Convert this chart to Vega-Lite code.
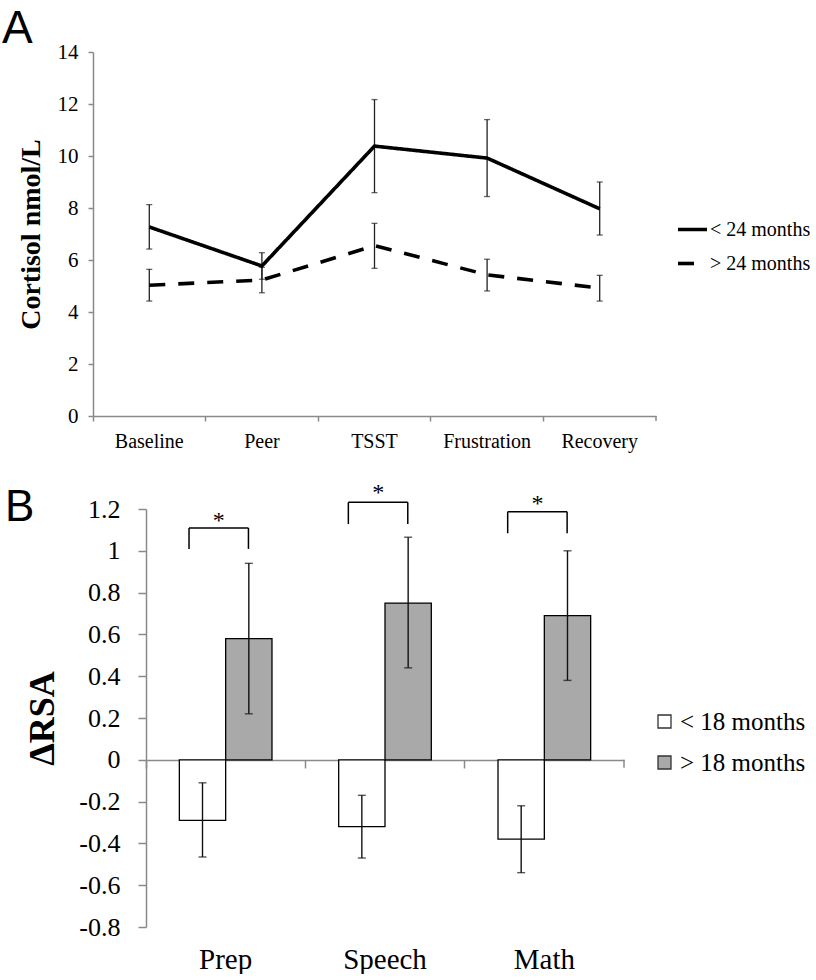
{
  "$schema": "https://vega.github.io/schema/vega-lite/v6.json",
  "background": "white",
  "padding": {"left": 2, "top": 6, "right": 0, "bottom": 0},
  "spacing": 30,
  "columns": 1,
  "align": "none",
  "resolve": {"legend": {"strokeDash": "independent", "fill": "independent"}},
  "config": {
    "view": {"stroke": null},
    "font": "Liberation Serif",
    "axis": {"labelFont": "Liberation Serif", "titleFont": "Liberation Serif", "labelColor": "black", "titleColor": "black", "domainColor": "#8a8a8a", "tickColor": "#8a8a8a", "grid": false, "domainWidth": 1.5, "tickWidth": 1.5},
    "legend": {"labelFont": "Liberation Serif", "labelColor": "black"},
    "title": {"font": "Liberation Sans", "fontWeight": "normal", "color": "black"}
  },
  "datasets": {
    "cortisol": [
      {"stage": "Baseline", "group": "< 24 months", "mean": 7.27, "lo": 6.42, "hi": 8.13},
      {"stage": "Peer", "group": "< 24 months", "mean": 5.77, "lo": 5.26, "hi": 6.28},
      {"stage": "TSST", "group": "< 24 months", "mean": 10.38, "lo": 8.59, "hi": 12.17},
      {"stage": "Frustration", "group": "< 24 months", "mean": 9.92, "lo": 8.44, "hi": 11.4},
      {"stage": "Recovery", "group": "< 24 months", "mean": 7.97, "lo": 6.96, "hi": 9.0},
      {"stage": "Baseline", "group": "> 24 months", "mean": 5.03, "lo": 4.42, "hi": 5.64},
      {"stage": "Peer", "group": "> 24 months", "mean": 5.23, "lo": 4.74, "hi": 5.72},
      {"stage": "TSST", "group": "> 24 months", "mean": 6.55, "lo": 5.68, "hi": 7.41},
      {"stage": "Frustration", "group": "> 24 months", "mean": 5.43, "lo": 4.81, "hi": 6.03},
      {"stage": "Recovery", "group": "> 24 months", "mean": 4.92, "lo": 4.42, "hi": 5.41}
    ],
    "rsa": [
      {"task": "Prep", "group": "< 18 months", "value": -0.29, "lo": -0.465, "hi": -0.11},
      {"task": "Prep", "group": "> 18 months", "value": 0.58, "lo": 0.22, "hi": 0.94},
      {"task": "Speech", "group": "< 18 months", "value": -0.32, "lo": -0.47, "hi": -0.17},
      {"task": "Speech", "group": "> 18 months", "value": 0.75, "lo": 0.44, "hi": 1.065},
      {"task": "Math", "group": "< 18 months", "value": -0.38, "lo": -0.54, "hi": -0.22},
      {"task": "Math", "group": "> 18 months", "value": 0.69, "lo": 0.38, "hi": 1.0}
    ],
    "brackets": [
      {"task": "Prep", "top": 1.109, "bot": 1.009, "star": 1.168, "label": "*"},
      {"task": "Speech", "top": 1.232, "bot": 1.128, "star": 1.299, "label": "*"},
      {"task": "Math", "top": 1.187, "bot": 1.084, "star": 1.248, "label": "*"}
    ]
  },
  "concat": [
    {
      "width": 563,
      "height": 364,
      "title": {"text": "A", "fontSize": 46, "anchor": "start", "frame": "group", "dx": -91, "dy": 57, "offset": 9, "baseline": "alphabetic"},
      "data": {"name": "cortisol"},
      "encoding": {
        "x": {"field": "stage", "type": "nominal", "sort": ["Baseline", "Peer", "TSST", "Frustration", "Recovery"], "scale": {"paddingInner": 0, "paddingOuter": 0},
          "axis": {"title": null, "labelAngle": 0, "labelFontSize": 20, "bandPosition": 0, "tickSize": 5, "labelPadding": 10}}
      },
      "layer": [
        {
          "mark": {"type": "rule", "color": "#222222", "strokeWidth": 1.3},
          "encoding": {
            "y": {"field": "lo", "type": "quantitative", "title": "Cortisol nmol/L", "scale": {"domain": [0, 14], "nice": false},
              "axis": {"title": "Cortisol nmol/L", "titleFontSize": 28, "titleFontWeight": "bold", "titlePadding": 12, "values": [0, 2, 4, 6, 8, 10, 12, 14], "labelFontSize": 21, "tickSize": 5, "labelPadding": 10}},
            "y2": {"field": "hi"}
          }
        },
        {
          "mark": {"type": "tick", "color": "#222222", "thickness": 1.3, "size": 6},
          "encoding": {"y": {"field": "lo", "type": "quantitative", "title": "Cortisol nmol/L"}}
        },
        {
          "mark": {"type": "tick", "color": "#222222", "thickness": 1.3, "size": 6},
          "encoding": {"y": {"field": "hi", "type": "quantitative", "title": "Cortisol nmol/L"}}
        },
        {
          "mark": {"type": "line", "color": "black", "strokeWidth": 3.6},
          "encoding": {
            "y": {"field": "mean", "type": "quantitative", "title": "Cortisol nmol/L"},
            "strokeDash": {"field": "group", "type": "nominal",
              "scale": {"domain": ["< 24 months", "> 24 months"], "range": [[1, 0], [16, 13]]},
              "legend": {"title": null, "orient": "none", "legendX": 583, "legendY": 161, "symbolType": "stroke", "symbolSize": 841, "symbolStrokeWidth": 3.6, "symbolStrokeColor": "black", "labelFontSize": 20, "labelOffset": 1, "rowPadding": 7}}
          }
        },
        {
          "data": {"values": [{"stage": "Recovery"}]},
          "mark": {"type": "rule", "color": "#8a8a8a", "strokeWidth": 1.5},
          "encoding": {
            "x": {"field": "stage", "type": "nominal", "bandPosition": 1},
            "y": {"datum": 0, "type": "quantitative"},
            "y2": {"datum": -0.19}
          }
        }
      ]
    },
    {
      "width": 531,
      "height": 418,
      "title": {"text": "B", "fontSize": 44, "anchor": "start", "frame": "group", "dx": -88, "dy": 74, "offset": -10, "baseline": "alphabetic"},
      "layer": [
        {
          "data": {"name": "rsa"},
          "mark": {"type": "bar", "stroke": "black", "strokeWidth": 1.3},
          "encoding": {
            "x": {"field": "task", "type": "nominal", "sort": ["Prep", "Speech", "Math"], "scale": {"range": [53, 531], "paddingInner": 0, "paddingOuter": 0},
              "axis": {"title": null, "labelAngle": 0, "labelFontSize": 29, "bandPosition": 0, "tickSize": 8, "offset": -167, "labelPadding": 177}},
            "xOffset": {"field": "group", "type": "nominal", "sort": ["< 18 months", "> 18 months"], "scale": {"paddingInner": 0, "paddingOuter": 0.72}},
            "y": {"field": "value", "type": "quantitative", "title": "ΔRSA", "scale": {"domain": [-0.8, 1.2], "nice": false},
              "axis": {"title": "ΔRSA", "titleFontSize": 36, "titleFontWeight": "bold", "titlePadding": 17, "offset": -53, "values": [-0.8, -0.6, -0.4, -0.2, 0, 0.2, 0.4, 0.6, 0.8, 1, 1.2],
                "labelExpr": "datum.value < 0 ? '-' + format(-datum.value, '~g') : format(datum.value, '~g')", "labelFontSize": 26, "tickSize": 8, "labelPadding": 18}},
            "fill": {"field": "group", "type": "nominal", "scale": {"domain": ["< 18 months", "> 18 months"], "range": ["white", "#a9a9a9"]},
              "legend": {"title": null, "orient": "none", "legendX": 559, "legendY": 200, "symbolType": "square", "symbolSize": 169, "symbolStrokeColor": "#333333", "symbolStrokeWidth": 1.3, "labelFontSize": 25, "labelOffset": 3, "rowPadding": 15}}
          }
        },
        {
          "data": {"name": "rsa"},
          "mark": {"type": "rule", "color": "#111111", "strokeWidth": 1.4},
          "encoding": {
            "x": {"field": "task", "type": "nominal", "sort": ["Prep", "Speech", "Math"]},
            "xOffset": {"field": "group", "type": "nominal", "sort": ["< 18 months", "> 18 months"]},
            "y": {"field": "lo", "type": "quantitative", "title": "ΔRSA"},
            "y2": {"field": "hi"}
          }
        },
        {
          "data": {"name": "rsa"},
          "mark": {"type": "tick", "color": "#111111", "thickness": 1.4, "size": 8},
          "encoding": {
            "x": {"field": "task", "type": "nominal", "sort": ["Prep", "Speech", "Math"]},
            "xOffset": {"field": "group", "type": "nominal", "sort": ["< 18 months", "> 18 months"]},
            "y": {"field": "lo", "type": "quantitative", "title": "ΔRSA"}
          }
        },
        {
          "data": {"name": "rsa"},
          "mark": {"type": "tick", "color": "#111111", "thickness": 1.4, "size": 8},
          "encoding": {
            "x": {"field": "task", "type": "nominal", "sort": ["Prep", "Speech", "Math"]},
            "xOffset": {"field": "group", "type": "nominal", "sort": ["< 18 months", "> 18 months"]},
            "y": {"field": "hi", "type": "quantitative", "title": "ΔRSA"}
          }
        },
        {
          "data": {"name": "brackets"},
          "mark": {"type": "rule", "color": "black", "strokeWidth": 1.5},
          "encoding": {
            "x": {"field": "task", "type": "nominal", "sort": ["Prep", "Speech", "Math"], "bandPosition": 0.27},
            "x2": {"field": "task", "bandPosition": 0.643},
            "y": {"field": "top", "type": "quantitative", "title": "ΔRSA"}
          }
        },
        {
          "data": {"name": "brackets"},
          "mark": {"type": "rule", "color": "black", "strokeWidth": 1.5},
          "encoding": {
            "x": {"field": "task", "type": "nominal", "sort": ["Prep", "Speech", "Math"], "bandPosition": 0.27},
            "y": {"field": "top", "type": "quantitative", "title": "ΔRSA"},
            "y2": {"field": "bot"}
          }
        },
        {
          "data": {"name": "brackets"},
          "mark": {"type": "rule", "color": "black", "strokeWidth": 1.5},
          "encoding": {
            "x": {"field": "task", "type": "nominal", "sort": ["Prep", "Speech", "Math"], "bandPosition": 0.643},
            "y": {"field": "top", "type": "quantitative", "title": "ΔRSA"},
            "y2": {"field": "bot"}
          }
        },
        {
          "data": {"name": "brackets"},
          "mark": {"type": "text", "fontSize": 24, "font": "Liberation Serif", "baseline": "middle", "dy": 5, "color": "black"},
          "encoding": {
            "x": {"field": "task", "type": "nominal", "sort": ["Prep", "Speech", "Math"], "bandPosition": 0.457},
            "y": {"field": "star", "type": "quantitative", "title": "ΔRSA"},
            "text": {"field": "label"}
          }
        },
        {
          "data": {"values": [{"task": "Math"}]},
          "mark": {"type": "rule", "color": "#8a8a8a", "strokeWidth": 1.5},
          "encoding": {
            "x": {"field": "task", "type": "nominal", "sort": ["Prep", "Speech", "Math"], "bandPosition": 1},
            "y": {"datum": 0, "type": "quantitative"},
            "y2": {"datum": -0.038}
          }
        }
      ]
    }
  ]
}
